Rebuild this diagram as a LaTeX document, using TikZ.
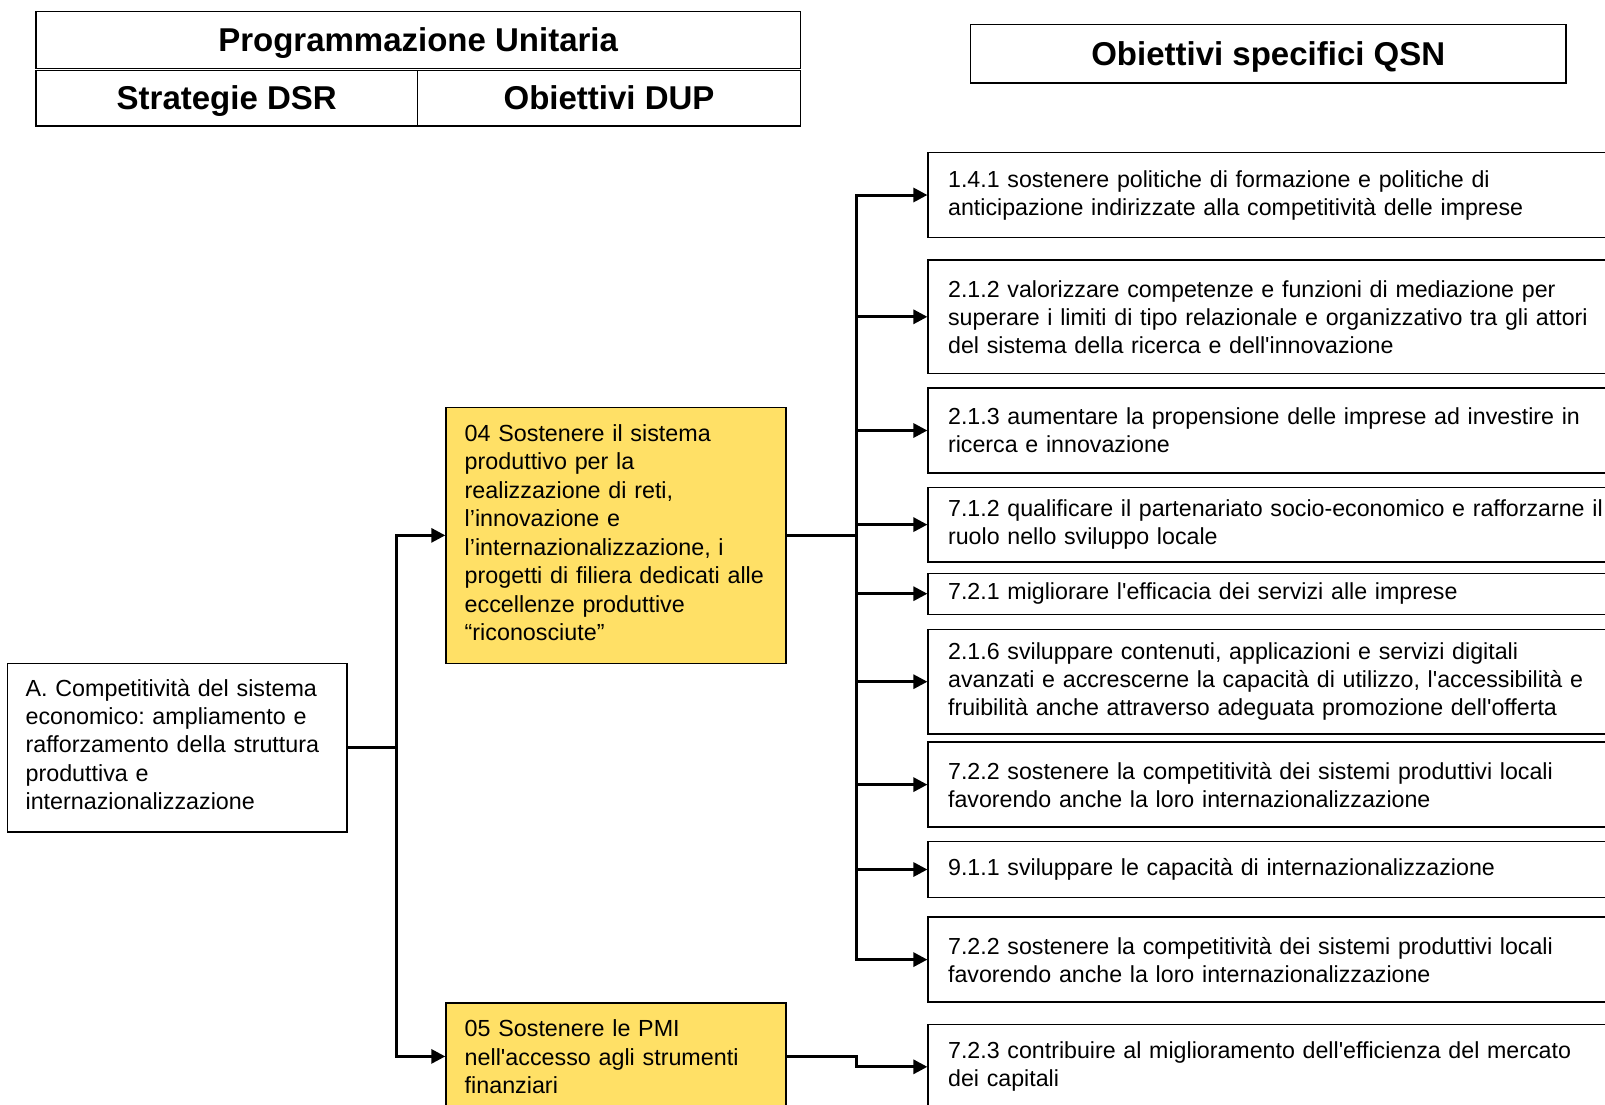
\documentclass[tikz,border=0pt]{standalone}
\usepackage{fontspec}
\setmainfont{Liberation Sans}[Ligatures=TeXOff]
\usetikzlibrary{arrows.meta}
\definecolor{dupyellow}{HTML}{FFE066}
\frenchspacing
\begin{document}
\begin{tikzpicture}[x=1pt,y=-1pt,
  headcell/.style={draw,line width=1.5pt,inner sep=0pt,text height=24pt,text depth=0pt,
    font=\fontsize{33}{38}\selectfont\bfseries},
  qsnbox/.style={draw,line width=1.4pt,anchor=west,align=left,
    text width=700pt,inner xsep=17.4pt,inner ysep=0pt,minimum width=740pt,
    font=\fontsize{23.2}{28}\selectfont},
  dupbox/.style={draw,line width=1.4pt,fill=dupyellow,align=left,
    text width=302.6pt,inner xsep=18.7pt,inner ysep=0pt,minimum width=340pt,
    font=\fontsize{23.3}{28.5}\selectfont},
  dsrbox/.style={draw,line width=1.4pt,align=left,
    text width=303pt,inner xsep=18.4pt,inner ysep=0pt,minimum width=339.8pt,
    font=\fontsize{23.3}{28.2}\selectfont},
  arr/.style={line width=3pt,-{Triangle[length=14pt,width=14pt]}}]
\useasboundingbox (0,0) rectangle (1605,1104);
\clip (0,0) rectangle (1605,1104);
\fill[white] (0,0) rectangle (1605,1104);

% column headers
\node[headcell,minimum width=764.7pt,minimum height=57.3pt] (prog) at (418.15,39.95) {Programmazione Unitaria};
\node[headcell,minimum width=381.8pt,minimum height=57.3pt] (dsr) at (226.7,97.25) {Strategie DSR};
\node[headcell,minimum width=382.9pt,minimum height=57.3pt] (dup) at (609.05,97.25) {Obiettivi DUP};
\draw[line width=0.9pt,double,double distance=1.6pt] (prog.south west) -- (prog.south east);
\node[headcell,minimum width=595.7pt,minimum height=58.4pt] (qsn) at (1268.25,53.8) {Obiettivi specifici QSN};

% strategy box (text top-aligned: height = first baseline, depth = rest of box)
\node[dsrbox,minimum height=168.9pt,text height=33.3pt,text depth=135.6pt] (A) at (177.1,747.7)
  {A. Competitività del sistema\\economico: ampliamento e\\rafforzamento della struttura\\produttiva e\\internazionalizzazione};

% DUP objectives
\node[dupbox,minimum height=255.9pt,text height=33.8pt,text depth=222.1pt] (d04) at (616,535.35)
  {04 Sostenere il sistema\\produttivo per la\\realizzazione di reti,\\l’innovazione e\\l’internazionalizzazione, i\\progetti di filiera dedicati alle\\eccellenze produttive\\“riconosciute”};
\node[dupbox,minimum height=106.8pt,text height=33.8pt,text depth=73pt] (d05) at (616,1056.4)
  {05 Sostenere le PMI\\nell'accesso agli strumenti\\finanziari};

% QSN specific objectives
\node[qsnbox,minimum height=85pt] (q1) at (927.4,195)
  {1.4.1 sostenere politiche di formazione e politiche di\\anticipazione indirizzate alla competitività delle imprese};
\node[qsnbox,minimum height=113.6pt] (q2) at (927.4,316.8)
  {2.1.2 valorizzare competenze e funzioni di mediazione per\\superare i limiti di tipo relazionale e organizzativo tra gli attori\\del sistema della ricerca e dell'innovazione};
\node[qsnbox,minimum height=85pt] (q3) at (927.4,430.5)
  {2.1.3 aumentare la propensione delle imprese ad investire in\\ricerca e innovazione};
\node[qsnbox,minimum height=74.7pt] (q4) at (927.4,524.6)
  {7.1.2 qualificare il partenariato socio-economico e rafforzarne il\\ruolo nello sviluppo locale};
\node[qsnbox,minimum height=41pt] (q5) at (927.4,593.7)
  {7.2.1 migliorare l'efficacia dei servizi alle imprese};
\node[qsnbox,minimum height=104.5pt] (q6) at (927.4,681.7)
  {2.1.6 sviluppare contenuti, applicazioni e servizi digitali\\avanzati e accrescerne la capacità di utilizzo, l'accessibilità e\\fruibilità anche attraverso adeguata promozione dell'offerta};
\node[qsnbox,minimum height=84.9pt] (q7) at (927.4,784.6)
  {7.2.2 sostenere la competitività dei sistemi produttivi locali\\favorendo anche la loro internazionalizzazione};
\node[qsnbox,minimum height=56.3pt] (q8) at (927.4,869.5)
  {9.1.1 sviluppare le capacità di internazionalizzazione};
\node[qsnbox,minimum height=84.9pt] (q9) at (927.4,959.6)
  {7.2.2 sostenere la competitività dei sistemi produttivi locali\\favorendo anche la loro internazionalizzazione};
\node[qsnbox,minimum height=84.4pt] (q10) at (927.4,1066.8)
  {7.2.3 contribuire al miglioramento dell'efficienza del mercato\\dei capitali};

% bus positions
\coordinate (busL) at (396.1,0);
\coordinate (busR) at (856.8,0);

% strategy -> DUP objectives
\draw[arr] (A.east) -- (A.east -| busL) |- (d04.west);
\draw[arr] (A.east) -- (A.east -| busL) |- (d05.west);

% objective 04 -> QSN objectives
\foreach \q in {q1,q2,q3,q4,q5,q6,q7,q8,q9}
  \draw[arr] (d04.east) -- (d04.east -| busR) |- (\q.west);

% objective 05 -> QSN objective
\draw[arr] (d05.east) -- (d05.east -| busR) |- (q10.west);
\end{tikzpicture}
\end{document}
